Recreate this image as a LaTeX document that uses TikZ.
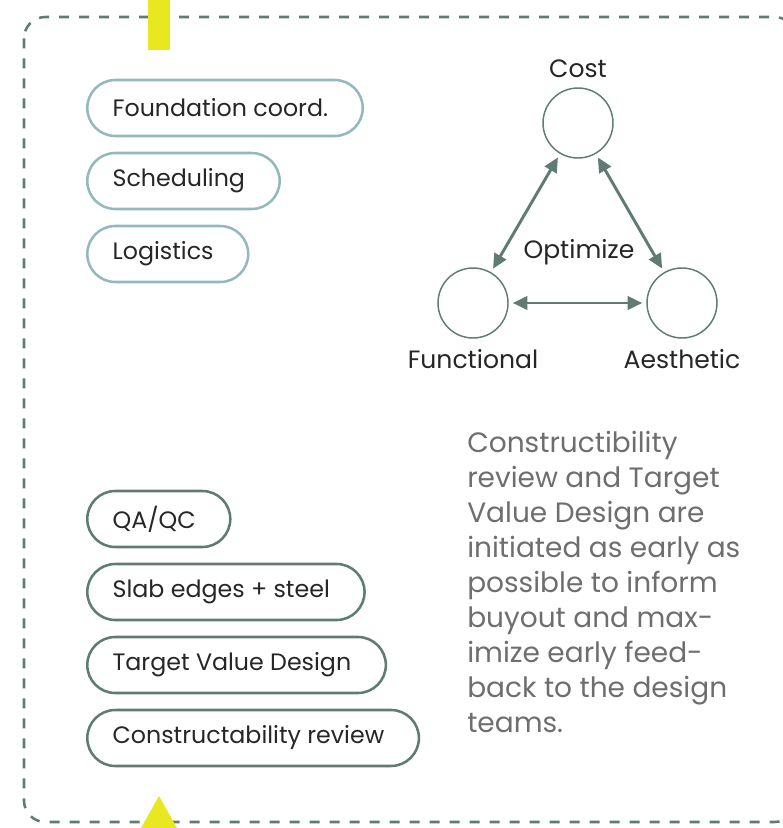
\documentclass[tikz,border=0pt]{standalone}
\usepackage{fontspec}
\setmainfont{Poppins}
\usetikzlibrary{arrows.meta,positioning}

\definecolor{sage}{HTML}{5F7B74}
\definecolor{paleteal}{HTML}{93B9BD}
\definecolor{marker}{HTML}{E9E71F}
\definecolor{bodygray}{HTML}{6E6E6E}

\tikzset{
  pill/.style={draw, line width=1.9pt, rounded corners=21pt, minimum height=42pt,
    inner xsep=19pt, anchor=west, text=black!85, font=\fontsize{17.8}{21}\selectfont,
    execute at end node=\hspace*{7pt}},
  pilltop/.style={pill, draw=paleteal},
  pillbot/.style={pill, draw=sage},
  goal/.style={circle, draw=sage, line width=1.1pt, minimum size=52.5pt, inner sep=0pt},
  goallabel/.style={inner sep=0pt, text=black!85, font=\fontsize{18.8}{22}\selectfont},
  tradeoff/.style={{Triangle[length=11pt,width=10pt]}-{Triangle[length=11pt,width=10pt]},
    draw=sage, line width=2.2pt, shorten >=3pt, shorten <=3pt}
}

\begin{document}
\begin{tikzpicture}[x=0.75pt,y=-0.75pt]
\useasboundingbox (0,0) rectangle (782,828);
% frame and markers
\draw[sage, line width=1.9pt, dash pattern=on 7.5pt off 7.5pt, rounded corners=16pt] (24,17) rectangle (796,822);
\fill[marker] (148,0) rectangle (170,50);
\fill[marker] (159,796) -- (177,828) -- (141,828) -- cycle;

% coordination items
\node[pilltop] (found) at (86,108) {Foundation coord.};
\node[pilltop] (sched) at (86,181) {Scheduling};
\node[pilltop] (logi) at (86,254) {Logistics};

\node[pillbot] (qaqc) at (86,519) {QA/QC};
\node[pillbot] (slab) at (86,592) {Slab edges + steel};
\node[pillbot] (tvd) at (86,665) {Target Value Design};
\node[pillbot] (review) at (86,738) {Constructability review};

% optimize triangle
\node[goal] (cost) at (578,123) {};
\node[goal] (func) at (473,303) {};
\node[goal] (aest) at (682,303) {};
\node[goallabel, above=7pt of cost] (costlbl) {Cost};
\node[goallabel, below=8pt of func] (funclbl) {Functional};
\node[goallabel, below=8pt of aest] (aestlbl) {Aesthetic};
\node[goallabel] (optim) at (579,252) {Optimize};
\draw[tradeoff] (cost) -- (func);
\draw[tradeoff] (cost) -- (aest);
\draw[tradeoff] (func) -- (aest);

% note
\node[anchor=north west, align=left, inner sep=0pt, text=bodygray,
  font=\fontsize{21}{26.25}\selectfont] (note) at (467,431)
  {Constructibility\\review and Target\\Value Design are\\initiated as early as\\possible to inform\\buyout and max-\\imize early feed-\\back to the design\\teams.};
\end{tikzpicture}
\end{document}
